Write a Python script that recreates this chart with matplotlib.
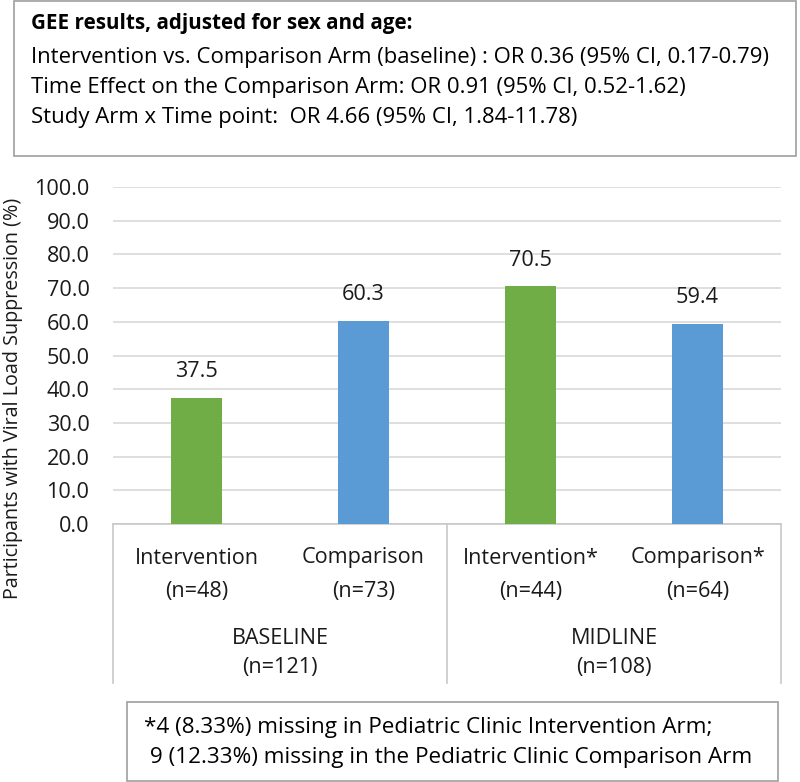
import matplotlib
matplotlib.use("Agg")
import matplotlib.pyplot as plt
from matplotlib.patches import Rectangle
from matplotlib.lines import Line2D

plt.rcParams['font.family'] = ['Open Sans', 'DejaVu Sans']

# ---- data ----
cat_names = ["Intervention", "Comparison", "Intervention*", "Comparison*"]
cat_n = ["(n=48)", "(n=73)", "(n=44)", "(n=64)"]
values = [37.5, 60.3, 70.5, 59.4]
bar_colors = ["#70AD47", "#5B9BD5", "#70AD47", "#5B9BD5"]
group_names = ["BASELINE", "MIDLINE"]
group_n = ["(n=121)", "(n=108)"]
yticks = [0, 10, 20, 30, 40, 50, 60, 70, 80, 90, 100]
header_title = "GEE results, adjusted for sex and age:"
header_lines = [
    "Intervention vs. Comparison Arm (baseline) : OR 0.36 (95% CI, 0.17-0.79)",
    "Time Effect on the Comparison Arm: OR 0.91 (95% CI, 0.52-1.62)",
    "Study Arm x Time point:  OR 4.66 (95% CI, 1.84-11.78)",
]
footnote_lines = [
    "*4 (8.33%) missing in Pediatric Clinic Intervention Arm;",
    " 9 (12.33%) missing in the Pediatric Clinic Comparison Arm",
]
ylabel = "Participants with Viral Load Suppression (%)"

W, H = 800, 782
FS = 15.6
TXT = "#1a1a1a"
fig = plt.figure(figsize=(W / 100, H / 100), dpi=100)

def fx(px):
    return px / W

def fy(py):
    return 1 - py / H

# axes: x 113..781, y 187..524 px
ax_l, ax_r, ax_t, ax_b = 113, 781, 187, 524
ax = fig.add_axes([fx(ax_l), fy(ax_b), (ax_r - ax_l) / W, (ax_b - ax_t) / H])

x = list(range(len(values)))
ax.bar(x, values, width=0.31, color=bar_colors, zorder=3)
ax.set_xlim(-0.5, len(values) - 0.5)
ax.set_ylim(0, 100)
ax.set_yticks(yticks)
ax.set_yticklabels([f"{v:.1f}" for v in yticks], fontsize=FS, color=TXT)
ax.tick_params(axis='y', length=0, pad=17)
ax.set_xticks([])
ax.yaxis.grid(True, color="#D9D9D9", linewidth=1.2, zorder=0)
for s in ["top", "right", "left"]:
    ax.spines[s].set_visible(False)
ax.spines["bottom"].set_color("#C8C8C8")
ax.spines["bottom"].set_linewidth(1.2)

for xi, v in zip(x, values):
    ax.annotate(f"{v:.1f}", (xi, v), xytext=(0, 26), textcoords="offset pixels",
                ha="center", va="center", fontsize=FS, color=TXT)

tr = ax.get_xaxis_transform()
axh = ax_b - ax_t

def ay(py):
    return (ax_b - py) / axh

for xi, nm, nn in zip(x, cat_names, cat_n):
    ax.text(xi, ay(558), nm, transform=tr, ha="center", va="center",
            fontsize=FS, color=TXT, clip_on=False)
    ax.text(xi, ay(591), nn, transform=tr, ha="center", va="center",
            fontsize=FS, color=TXT, clip_on=False)
for gi, (gn, gnn) in enumerate(zip(group_names, group_n)):
    ax.text(2 * gi + 0.5, ay(638), gn, transform=tr, ha="center", va="center",
            fontsize=FS, color=TXT, clip_on=False)
    ax.text(2 * gi + 0.5, ay(668), gnn, transform=tr, ha="center", va="center",
            fontsize=FS, color=TXT, clip_on=False)
for sx in [-0.5, 1.5, 3.5]:
    ax.add_line(Line2D([sx, sx], [0, ay(683)], transform=tr, color="#C8C8C8",
                       linewidth=1.2, clip_on=False))

fig.text(fx(13), fy(398), ylabel, rotation=90,
         ha="center", va="center", fontsize=14.2, color=TXT)

# header box
fig.add_artist(Rectangle((fx(14), fy(156)), (796 - 14) / W, (156 - 1) / H,
                         transform=fig.transFigure, fill=False,
                         edgecolor="#A6A6A6", linewidth=1.3))
fig.text(fx(31), fy(24), header_title, fontsize=14.9, fontweight="bold",
         ha="left", va="center", color="#000000")
for i, line in enumerate(header_lines):
    fig.text(fx(31), fy(57 + 30 * i), line, fontsize=15.9, ha="left",
             va="center", color="#000000")

# footnote box
fig.add_artist(Rectangle((fx(127), fy(781)), (778 - 127) / W, (781 - 702) / H,
                         transform=fig.transFigure, fill=False,
                         edgecolor="#A6A6A6", linewidth=1.3))
for i, line in enumerate(footnote_lines):
    fig.text(fx(144), fy(728 + 30 * i), line, fontsize=16.2, ha="left",
             va="center", color="#000000")

fig.savefig("out.png", dpi=100, facecolor="white")
